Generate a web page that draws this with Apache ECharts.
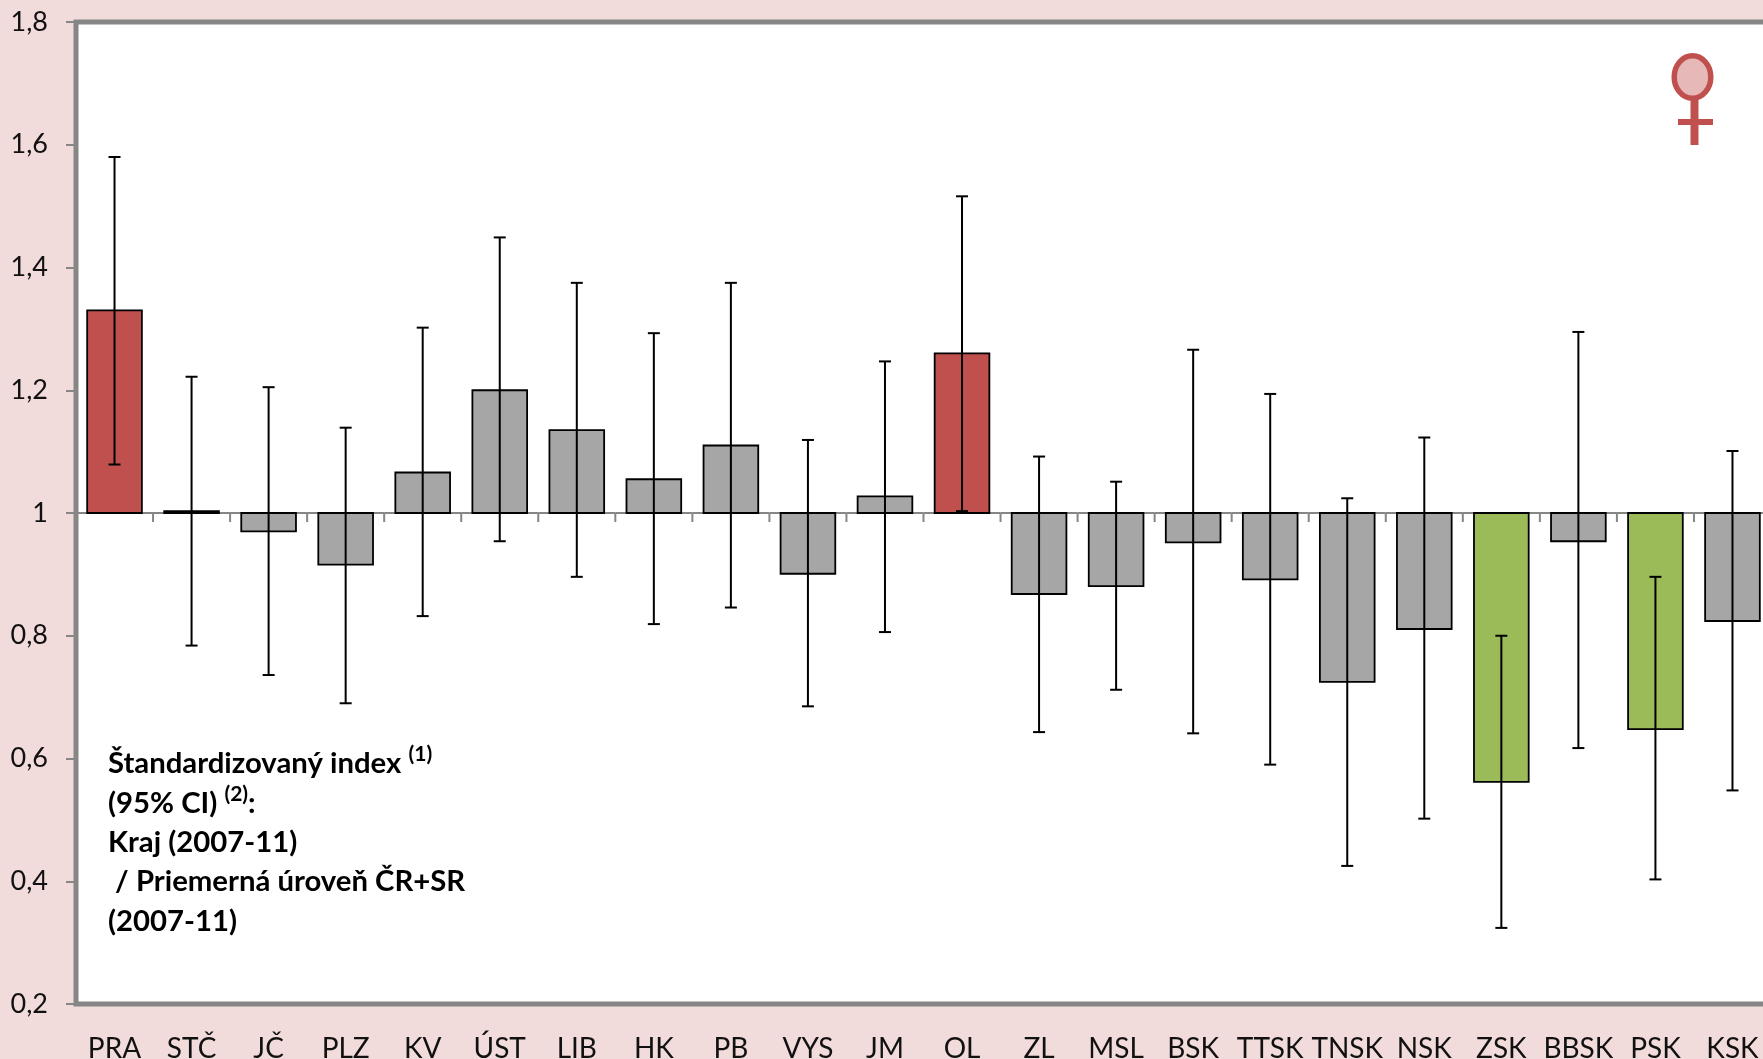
<!DOCTYPE html>
<html><head><meta charset="utf-8">
<style>html,body{margin:0;padding:0;background:#F2DCDB;overflow:hidden}#c{width:1763px;height:1059px}</style>
<script src="https://cdn.jsdelivr.net/npm/echarts@6/dist/echarts.min.js"></script>
</head><body><div id="c"></div>
<script>
const categories=['PRA','STČ','JČ','PLZ','KV','ÚST','LIB','HK','PB','VYS','JM','OL','ZL','MSL','BSK','TTSK','TNSK','NSK','ZSK','BBSK','PSK','KSK'];
const values=[1.33,1.003,0.97,0.916,1.066,1.2,1.135,1.055,1.11,0.901,1.027,1.26,0.868,0.881,0.952,0.892,0.725,0.811,0.562,0.954,0.648,0.824];
const upper=[1.58,1.222,1.205,1.139,1.302,1.449,1.375,1.293,1.375,1.119,1.247,1.516,1.092,1.051,1.266,1.194,1.024,1.123,0.8,1.295,0.896,1.101];
const lower=[1.079,0.784,0.736,0.69,0.832,0.954,0.896,0.819,0.846,0.685,0.806,1.003,0.643,0.712,0.641,0.59,0.425,0.502,0.324,0.617,0.403,0.548];
const significance=['high','','','','','','','','','','','high','','','','','','','low','','low',''];
const baseline=1;
const noteLines=['{b|Štandardizovaný index }{s|(1)}','{b|(95% CI) }{s|(2)}{b|:}','{b|Kraj (2007-11)}','{b| / Priemerná úroveň ČR+SR}','{b|(2007-11)}'];

const colors={high:'#C0504D',low:'#9BBB59','':'#A6A6A6'};
const FONT='Lato';
const chart=echarts.init(document.getElementById('c'),null,{renderer:'canvas',width:1763,height:1059});
const idx=categories.map((c,i)=>i);
chart.setOption({
  animation:false,
  backgroundColor:'#F2DCDB',
  grid:{left:76,top:22,width:1695,height:982,outerBoundsMode:'none',containLabel:false,show:true,backgroundColor:'#FFFFFF',borderColor:'#868686',borderWidth:5},
  xAxis:{type:'category',data:categories,
    axisLine:{show:false},axisTick:{show:false},
    axisLabel:{interval:0,margin:31,fontFamily:FONT,fontSize:28,color:'#111'}},
  yAxis:{type:'value',min:0.2,max:1.8,interval:0.2,splitLine:{show:false},
    axisLine:{show:false},
    axisTick:{show:true,length:10,lineStyle:{color:'#868686',width:2}},
    axisLabel:{margin:28,fontFamily:FONT,fontSize:27,color:'#111',
      formatter:v=>{const r=Math.round(v*10)/10;return Number.isInteger(r)?String(r):r.toFixed(1).replace('.',',');}}},
  series:[
    {type:'custom',z:2,clip:false,silent:true,data:idx,
      renderItem:(p,api)=>{
        const i=api.value(0);
        const c=api.coord([i,baseline]);const w=api.size([1,0])[0];
        return {type:'group',children:[
          {type:'line',shape:{x1:c[0]-w/2,y1:c[1],x2:c[0]+w/2,y2:c[1]},style:{stroke:'#868686',lineWidth:2}},
          {type:'line',shape:{x1:c[0]+w/2,y1:c[1],x2:c[0]+w/2,y2:c[1]+9},style:{stroke:'#868686',lineWidth:2}}
        ]};
      },encode:{x:0,y:0}},
    {type:'custom',z:3,silent:true,data:values.map((v,i)=>[i,v]),
      renderItem:(p,api)=>{
        const i=api.value(0),v=api.value(1);
        const a=api.coord([i,v]),b=api.coord([i,baseline]);
        const w=api.size([1,0])[0]*0.71;
        return {type:'rect',shape:{x:a[0]-w/2,y:Math.min(a[1],b[1]),width:w,height:Math.abs(a[1]-b[1])},
          style:{fill:colors[significance[i]],stroke:'#000',lineWidth:1.8}};
      },encode:{x:0,y:1}},
    {type:'custom',z:4,silent:true,data:upper.map((u,i)=>[i,u,lower[i]]),
      renderItem:(p,api)=>{
        const i=api.value(0);
        const h=api.coord([i,api.value(1)]),l=api.coord([i,api.value(2)]);
        const cap=6,st={stroke:'#000',lineWidth:2};
        return {type:'group',children:[
          {type:'line',shape:{x1:h[0],y1:h[1],x2:l[0],y2:l[1]},style:st},
          {type:'line',shape:{x1:h[0]-cap,y1:h[1],x2:h[0]+cap,y2:h[1]},style:st},
          {type:'line',shape:{x1:l[0]-cap,y1:l[1],x2:l[0]+cap,y2:l[1]},style:st}
        ]};
      },encode:{x:0,y:[1,2]}}
  ],
  graphic:[
    {type:'text',left:108,top:744,z:10,style:{text:noteLines.join('\n'),fontFamily:FONT,
      rich:{b:{fontFamily:FONT,fontWeight:'bold',fontSize:29.3,lineHeight:39.4,fill:'#000'},
            s:{fontFamily:FONT,fontWeight:'bold',fontSize:21,lineHeight:39.4,verticalAlign:'top',fill:'#000'}}}},
    {type:'line',z:10,shape:{x1:1694.5,y1:100,x2:1694.5,y2:145},style:{stroke:'#C0504D',lineWidth:8}},
    {type:'line',z:10,shape:{x1:1678,y1:122,x2:1713,y2:122},style:{stroke:'#C0504D',lineWidth:6}},
    {type:'ellipse',z:11,shape:{cx:1692.5,cy:77,rx:18.3,ry:21.3},style:{fill:'#E6B9B8',stroke:'#C0504D',lineWidth:5.5}}
  ]
});
</script></body></html>
